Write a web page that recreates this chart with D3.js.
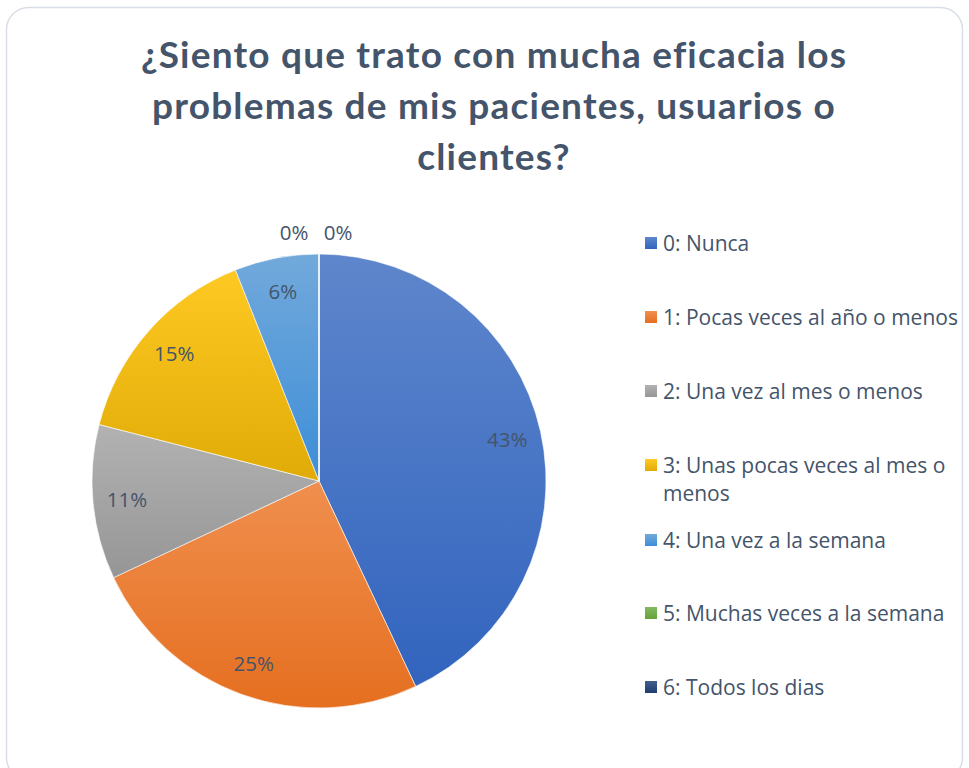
<!DOCTYPE html>
<html>
<head>
<meta charset="utf-8">
<script src="https://cdn.jsdelivr.net/npm/d3@7/dist/d3.min.js"></script>
<style>
  html, body { margin: 0; padding: 0; background: #ffffff; }
  svg { display: block; }
</style>
</head>
<body>
<svg id="chart" width="969" height="768"></svg>
<script>
const titleLines = ["¿Siento que trato con mucha eficacia los", "problemas de mis pacientes, usuarios o", "clientes?"];
const categories = ["0: Nunca", "1: Pocas veces al año o menos", "2: Una vez al mes o menos", "3: Unas pocas veces al mes o menos", "4: Una vez a la semana", "5: Muchas veces a la semana", "6: Todos los dias"];
const legendLines = [["0: Nunca"], ["1: Pocas veces al año o menos"], ["2: Una vez al mes o menos"], ["3: Unas pocas veces al mes o", "menos"], ["4: Una vez a la semana"], ["5: Muchas veces a la semana"], ["6: Todos los dias"]];
const values = [43, 25, 11, 15, 6, 0, 0];
const labels = ["43%", "25%", "11%", "15%", "6%", "0%", "0%"];
const colors = ["#4472C4", "#ED7D31", "#A5A5A5", "#FFC000", "#5B9BD5", "#70AD47", "#264478"];

const svg = d3.select("#chart");
const textColor = "#44546A";
const titleFont = "Lato, 'Open Sans', sans-serif";
const bodyFont = "'Open Sans', 'Noto Sans', sans-serif";

// frame
svg.append("rect")
  .attr("x", 6.5).attr("y", 7.5).attr("width", 956).attr("height", 772)
  .attr("rx", 22).attr("ry", 22)
  .attr("fill", "#ffffff").attr("stroke", "#D9DEE6").attr("stroke-width", 1.5);

// gradients
const defs = svg.append("defs");
colors.forEach((c, i) => {
  const g = defs.append("linearGradient").attr("id", "grad" + i)
    .attr("x1", 0).attr("y1", 0).attr("x2", 0).attr("y2", 1);
  const top = d3.interpolateRgb(c, "#ffffff")(0.14);
  const b = d3.hsl(c);
  b.s = b.s < 0.7 ? Math.min(1, b.s * 1.12) : b.s * 0.94;
  b.l = b.l * 0.91;
  g.append("stop").attr("offset", "0%").attr("stop-color", top);
  g.append("stop").attr("offset", "100%").attr("stop-color", b.formatHex());
});

// title
svg.append("g").selectAll("text").data(titleLines).join("text")
  .attr("x", 494).attr("y", (d, i) => 68 + i * 51)
  .attr("text-anchor", "middle")
  .attr("font-family", titleFont).attr("font-weight", "bold").attr("font-size", 37)
  .attr("letter-spacing", 1.2)
  .attr("fill", textColor)
  .text(d => d);

// pie
const cx = 319, cy = 481, r = 227;
const pie = d3.pie().sort(null).value(d => d)(values);
const arc = d3.arc().innerRadius(0).outerRadius(r);
const g = svg.append("g").attr("transform", `translate(${cx},${cy})`);
g.selectAll("path").data(pie).join("path")
  .attr("d", arc)
  .attr("fill", (d, i) => `url(#grad${i})`)
  .attr("stroke", "#ffffff").attr("stroke-width", 0.6);

// data labels
const inArc = d3.arc().innerRadius(r * 0.85).outerRadius(r * 0.85);
const zeroShift = [-25, 19];
let zi = 0;
g.selectAll("text.lbl").data(pie).join("text")
  .attr("class", "lbl")
  .each(function(d, i) {
    let x, y;
    if (d.value === 0) {
      const a = d.startAngle;
      const rr = r + 22;
      x = Math.sin(a) * rr + zeroShift[zi++];
      y = -Math.cos(a) * rr;
    } else {
      [x, y] = inArc.centroid(d);
    }
    d3.select(this).attr("x", x).attr("y", y);
  })
  .attr("text-anchor", "middle").attr("dominant-baseline", "central")
  .attr("font-family", bodyFont).attr("font-size", 20.5)
  .attr("fill", textColor)
  .text((d, i) => labels[i]);

// legend
const lg = svg.append("g");
const legendY = [243, 317, 391, 465, 540, 613, 687];
categories.forEach((c, i) => {
  const row = lg.append("g").attr("transform", `translate(645,${legendY[i]})`);
  row.append("rect").attr("x", 0).attr("y", -6).attr("width", 12).attr("height", 12)
    .attr("fill", `url(#grad${i})`);
  legendLines[i].forEach((t, j) => {
    row.append("text").attr("x", 18).attr("y", j * 28)
      .attr("dominant-baseline", "central")
      .attr("font-family", bodyFont).attr("font-size", 21)
      .attr("fill", textColor)
      .text(t);
  });
});
</script>
</body>
</html>
